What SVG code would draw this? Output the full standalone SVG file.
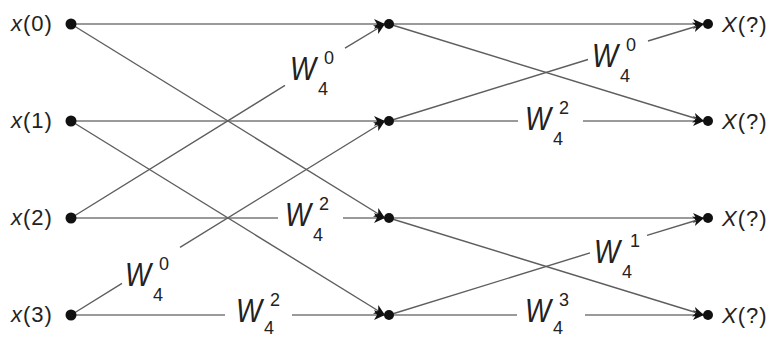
<svg xmlns="http://www.w3.org/2000/svg" width="773" height="339" viewBox="0 0 773 339">
<defs>
<style>
.h{fill:none;stroke:#9a9a9a;stroke-width:2}
.d{fill:none;stroke:#5e5e5e;stroke-width:1.4}
.dot{fill:#111}
.lab{font-family:"Liberation Sans",Arial,sans-serif;font-size:22px;fill:#222;letter-spacing:1px}
.t{font-family:"Liberation Sans",Arial,sans-serif;fill:#222}
.w{font-size:33px;font-style:italic}
.s{font-size:18px}
</style>
<marker id="ar" markerUnits="userSpaceOnUse" markerWidth="13" markerHeight="11" refX="11" refY="5" orient="auto">
<path d="M0,0 L11,5 L0,10 L3,5 z" fill="#111"/>
</marker>
</defs>
<rect width="773" height="339" fill="#fff"/>
<g id="connectors">
<path class="h" marker-end="url(#ar)" d="M71,24 H385"/>
<path class="h" marker-end="url(#ar)" d="M71,121 H385"/>
<path class="h" marker-end="url(#ar)" d="M71,218 H278 M343,218 H385"/>
<path class="h" marker-end="url(#ar)" d="M71,315 H225 M292,315 H385"/>
<path class="d" marker-end="url(#ar)" d="M71,24 L385,218"/>
<path class="d" marker-end="url(#ar)" d="M71,121 L385,315"/>
<path class="d" marker-end="url(#ar)" d="M71,218 L285,85.4 M345,48.2 L385,24"/>
<path class="d" marker-end="url(#ar)" d="M71,315 L122,283.4 M180,247.4 L385,121"/>
<path class="h" marker-end="url(#ar)" d="M389,24 H704"/>
<path class="h" marker-end="url(#ar)" d="M389,121 H518 M583,121 H704"/>
<path class="h" marker-end="url(#ar)" d="M389,218 H704"/>
<path class="h" marker-end="url(#ar)" d="M389,315 H517 M585,315 H704"/>
<path class="d" marker-end="url(#ar)" d="M389,24 L704,121"/>
<path class="d" marker-end="url(#ar)" d="M389,218 L704,315"/>
<path class="d" marker-end="url(#ar)" d="M389,121 L588,59.5 M648,41 L704,24"/>
<path class="d" marker-end="url(#ar)" d="M389,315 L590,252.9 M647,235.3 L704,218"/>
<text id="w1" class="t"><tspan class="w" x="290" y="80" textLength="26" lengthAdjust="spacingAndGlyphs">W</tspan><tspan class="s" x="318" y="95">4</tspan><tspan class="s" x="324" y="64">0</tspan></text>
<text id="w2" class="t"><tspan class="w" x="125" y="286" textLength="26" lengthAdjust="spacingAndGlyphs">W</tspan><tspan class="s" x="153" y="301">4</tspan><tspan class="s" x="159" y="270">0</tspan></text>
<text id="w3" class="t"><tspan class="w" x="285" y="226" textLength="26" lengthAdjust="spacingAndGlyphs">W</tspan><tspan class="s" x="313" y="241">4</tspan><tspan class="s" x="319" y="210">2</tspan></text>
<text id="w4" class="t"><tspan class="w" x="236" y="322" textLength="26" lengthAdjust="spacingAndGlyphs">W</tspan><tspan class="s" x="264" y="334">4</tspan><tspan class="s" x="270" y="306">2</tspan></text>
<text id="w5" class="t"><tspan class="w" x="592" y="67" textLength="26" lengthAdjust="spacingAndGlyphs">W</tspan><tspan class="s" x="620" y="82">4</tspan><tspan class="s" x="626" y="51">0</tspan></text>
<text id="w6" class="t"><tspan class="w" x="525" y="130" textLength="26" lengthAdjust="spacingAndGlyphs">W</tspan><tspan class="s" x="553" y="145">4</tspan><tspan class="s" x="559" y="114">2</tspan></text>
<text id="w7" class="t"><tspan class="w" x="594" y="263" textLength="26" lengthAdjust="spacingAndGlyphs">W</tspan><tspan class="s" x="622" y="278">4</tspan><tspan class="s" x="630" y="247">1</tspan></text>
<text id="w8" class="t"><tspan class="w" x="525" y="322" textLength="26" lengthAdjust="spacingAndGlyphs">W</tspan><tspan class="s" x="553" y="334">4</tspan><tspan class="s" x="559" y="306">3</tspan></text>
</g>
<g id="in0"><circle class="dot" cx="71" cy="24" r="5.5"/><text class="lab" x="11" y="31"><tspan font-style="italic">x</tspan>(0)</text></g>
<g id="in1"><circle class="dot" cx="71" cy="121" r="5.5"/><text class="lab" x="11" y="128"><tspan font-style="italic">x</tspan>(1)</text></g>
<g id="in2"><circle class="dot" cx="71" cy="218" r="5.5"/><text class="lab" x="11" y="225"><tspan font-style="italic">x</tspan>(2)</text></g>
<g id="in3"><circle class="dot" cx="71" cy="315" r="5.5"/><text class="lab" x="11" y="322"><tspan font-style="italic">x</tspan>(3)</text></g>
<g id="m0"><circle class="dot" cx="389" cy="24" r="5"/></g>
<g id="m1"><circle class="dot" cx="389" cy="121" r="5"/></g>
<g id="m2"><circle class="dot" cx="389" cy="218" r="5"/></g>
<g id="m3"><circle class="dot" cx="389" cy="315" r="5"/></g>
<g id="out0"><circle class="dot" cx="708" cy="24" r="5"/><text class="lab" x="722" y="32"><tspan font-style="italic">X</tspan>(?)</text></g>
<g id="out1"><circle class="dot" cx="708" cy="121" r="5"/><text class="lab" x="722" y="129"><tspan font-style="italic">X</tspan>(?)</text></g>
<g id="out2"><circle class="dot" cx="708" cy="218" r="5"/><text class="lab" x="722" y="226"><tspan font-style="italic">X</tspan>(?)</text></g>
<g id="out3"><circle class="dot" cx="708" cy="315" r="5"/><text class="lab" x="722" y="323"><tspan font-style="italic">X</tspan>(?)</text></g>
</svg>
